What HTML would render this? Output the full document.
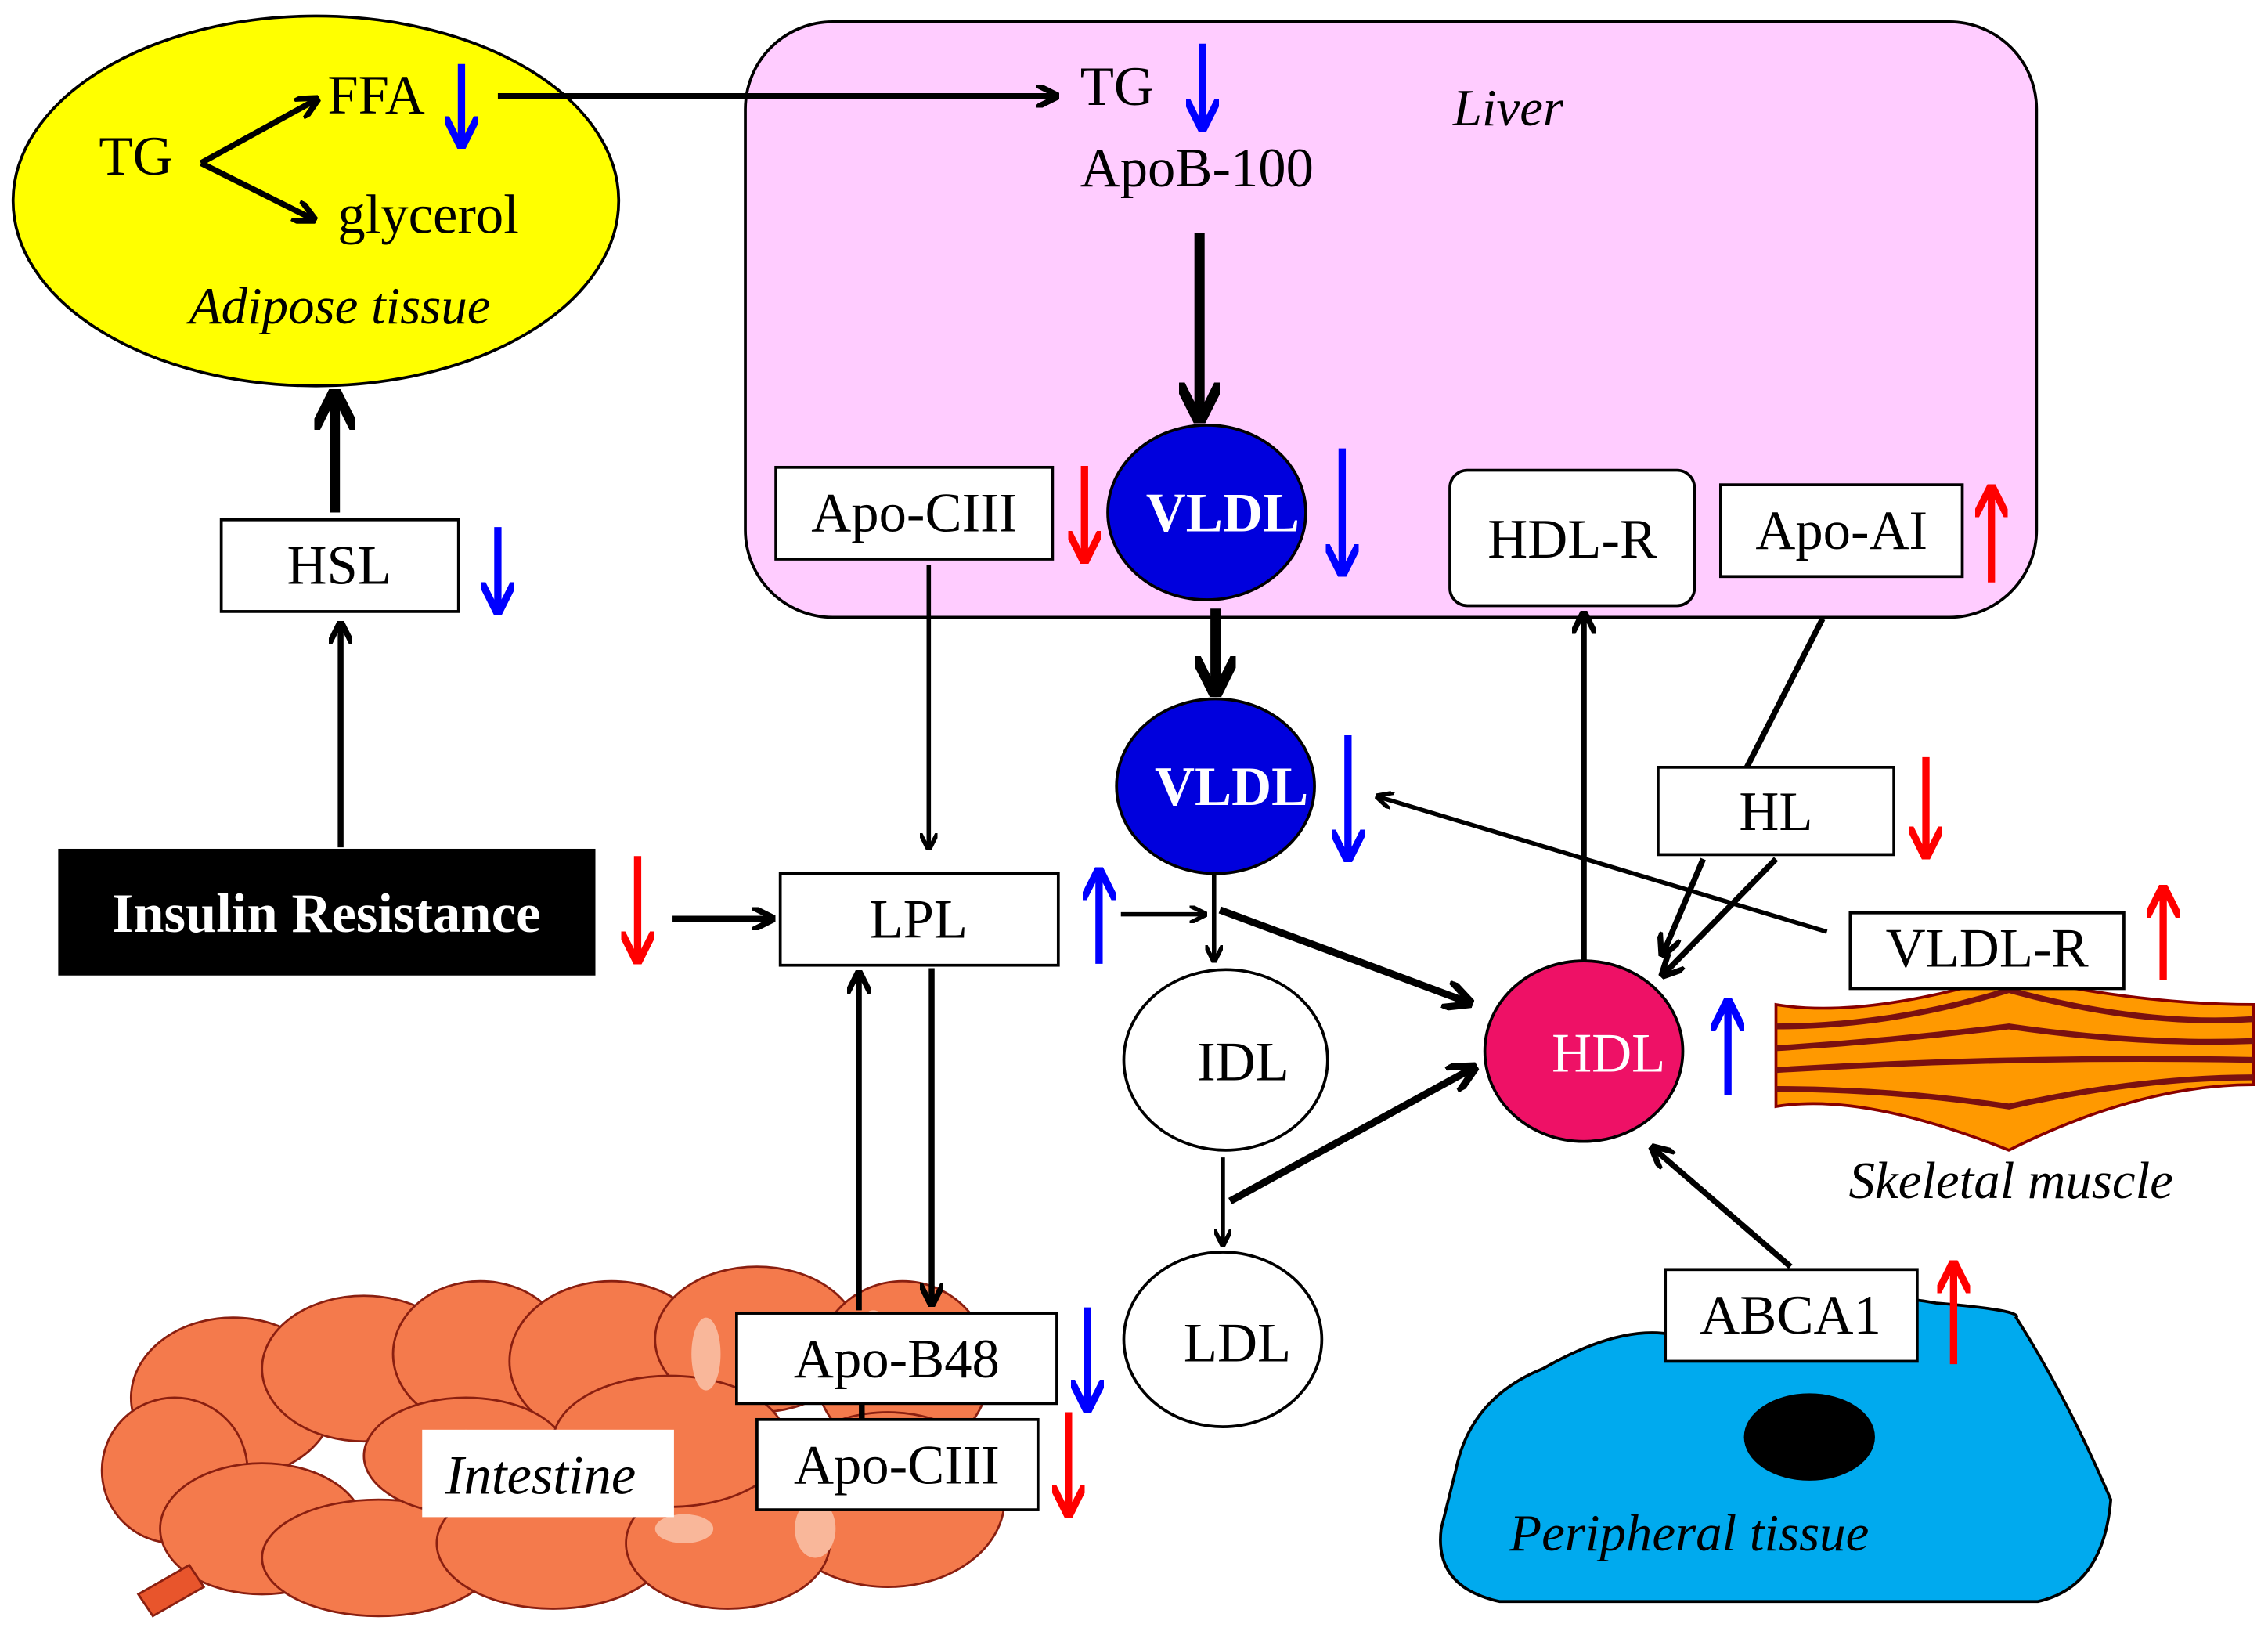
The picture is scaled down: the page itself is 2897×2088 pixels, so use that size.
<!DOCTYPE html>
<html><head><meta charset="utf-8"><style>html,body{margin:0;padding:0;background:#fff}svg{display:block}</style></head>
<body>
<svg width="2897" height="2088" viewBox="0 0 1558 1123" preserveAspectRatio="none" xmlns="http://www.w3.org/2000/svg" font-family="'Liberation Serif', serif">
<defs>
<marker id="ak" viewBox="0 0 10 10" refX="9" refY="5" markerWidth="4" markerHeight="4" orient="auto"><path d="M0,0 L10,5 L0,10" fill="none" stroke="#000" stroke-width="2.5"/></marker>
<marker id="ab" viewBox="0 0 10 10" refX="9" refY="5" markerWidth="4.5" markerHeight="4.5" orient="auto"><path d="M0,0 L10,5 L0,10" fill="none" stroke="#00f" stroke-width="2.2"/></marker>
<marker id="ar" viewBox="0 0 10 10" refX="9" refY="5" markerWidth="4.5" markerHeight="4.5" orient="auto"><path d="M0,0 L10,5 L0,10" fill="none" stroke="#f00" stroke-width="2.2"/></marker>
</defs>
<!-- liver -->
<rect x="512" y="15" width="887" height="409" rx="60" fill="#ffccff" stroke="#000" stroke-width="2"/>
<text x="998" y="86" font-size="36" font-style="italic">Liver</text>
<text x="742" y="72" font-size="38">TG</text>
<text x="742" y="128" font-size="38">ApoB-100</text>
<!-- adipose -->
<ellipse cx="217" cy="138" rx="208" ry="127" fill="#ffff00" stroke="#000" stroke-width="2"/>
<text x="68" y="120" font-size="38">TG</text>
<text x="225" y="78" font-size="38">FFA</text>
<text x="232" y="160" font-size="38">glycerol</text>
<text x="130" y="222" font-size="36" font-style="italic">Adipose tissue</text>
<g stroke="#000" stroke-width="4" fill="none">
<line x1="138" y1="112" x2="218" y2="68" marker-end="url(#ak)"/>
<line x1="138" y1="112" x2="216" y2="151" marker-end="url(#ak)"/>
<line x1="342" y1="66" x2="726" y2="66" marker-end="url(#ak)"/>
</g>
<!-- intestine -->
<g stroke="#8a1f10" stroke-width="1.5" fill="#f47a4c">
<ellipse cx="160" cy="960" rx="70" ry="55"/>
<ellipse cx="120" cy="1010" rx="50" ry="50"/>
<ellipse cx="250" cy="940" rx="70" ry="50"/>
<ellipse cx="330" cy="930" rx="60" ry="50"/>
<ellipse cx="420" cy="935" rx="70" ry="55"/>
<ellipse cx="520" cy="920" rx="70" ry="50"/>
<ellipse cx="620" cy="940" rx="60" ry="60"/>
<ellipse cx="610" cy="1030" rx="80" ry="60"/>
<ellipse cx="180" cy="1050" rx="70" ry="45"/>
<ellipse cx="260" cy="1070" rx="80" ry="40"/>
<ellipse cx="380" cy="1060" rx="80" ry="45"/>
<ellipse cx="500" cy="1060" rx="70" ry="45"/>
<ellipse cx="320" cy="1000" rx="70" ry="40"/>
<ellipse cx="460" cy="990" rx="80" ry="45"/>
<path d="M95,1095 L130,1075 L140,1090 L105,1110 Z" fill="#e8552c"/>
</g>
<g fill="#f9b79a"><ellipse cx="485" cy="930" rx="10" ry="25"/><ellipse cx="600" cy="920" rx="12" ry="20"/><ellipse cx="320" cy="1000" rx="10" ry="18"/><ellipse cx="470" cy="1050" rx="20" ry="10"/><ellipse cx="560" cy="1050" rx="14" ry="20"/></g>
<rect x="290" y="982" width="173" height="60" fill="#fff"/>
<text x="306" y="1026" font-size="38" font-style="italic">Intestine</text>
<!-- muscle -->
<path d="M1220,690 Q1280,700 1380,670 Q1470,690 1548,690 L1548,745 Q1470,745 1380,790 Q1280,750 1220,760 Z" fill="#ff9900" stroke="#800" stroke-width="2"/>
<g stroke="#7a1010" stroke-width="4" fill="none">
<path d="M1220,705 Q1300,705 1380,680 Q1470,705 1548,700"/>
<path d="M1220,720 Q1300,715 1380,705 Q1470,718 1548,715"/>
<path d="M1220,735 Q1380,725 1548,728"/>
<path d="M1220,748 Q1300,748 1380,760 Q1470,740 1548,740"/>
</g>
<text x="1270" y="823" font-size="36" font-style="italic">Skeletal muscle</text>
<!-- peripheral -->
<path d="M1000,1010 Q1010,960 1060,940 Q1130,900 1170,925 Q1250,880 1330,895 Q1390,900 1385,905 Q1420,960 1450,1030 Q1445,1090 1400,1100 L1030,1100 Q985,1090 990,1050 Z" fill="#00aaee" stroke="#000" stroke-width="2"/>
<ellipse cx="1243" cy="987" rx="45" ry="30" fill="#000"/>
<text x="1037" y="1065" font-size="36" font-style="italic">Peripheral tissue</text>
<!-- boxes -->
<g fill="#fff" stroke="#000" stroke-width="2">
<rect x="533" y="321" width="190" height="63"/>
<rect x="996" y="323" width="168" height="93" rx="12"/>
<rect x="1182" y="333" width="166" height="63"/>
<rect x="152" y="357" width="163" height="63"/>
<rect x="536" y="600" width="191" height="63"/>
<rect x="1139" y="527" width="162" height="60"/>
<rect x="1271" y="627" width="188" height="52"/>
<rect x="1144" y="872" width="173" height="63"/>
<rect x="506" y="902" width="220" height="62"/>
<rect x="520" y="975" width="193" height="62"/>
<ellipse cx="842" cy="728" rx="70" ry="62"/>
<ellipse cx="840" cy="920" rx="68" ry="60"/>
</g>
<rect x="40" y="583" width="369" height="87" fill="#000"/>
<text x="224" y="640" font-size="38" font-weight="bold" fill="#fff" text-anchor="middle">Insulin Resistance</text>
<g font-size="38" text-anchor="middle">
<text x="628" y="365">Apo-CIII</text>
<text x="1080" y="383">HDL-R</text>
<text x="1265" y="377">Apo-AI</text>
<text x="233" y="401">HSL</text>
<text x="631" y="644">LPL</text>
<text x="1220" y="570">HL</text>
<text x="1365" y="664">VLDL-R</text>
<text x="1230" y="916">ABCA1</text>
<text x="616" y="946">Apo-B48</text>
<text x="616" y="1019">Apo-CIII</text>
<text x="854" y="742">IDL</text>
<text x="850" y="935">LDL</text>
</g>
<ellipse cx="829" cy="352" rx="68" ry="60" fill="#0000dd" stroke="#000" stroke-width="2"/>
<ellipse cx="835" cy="540" rx="68" ry="60" fill="#0000dd" stroke="#000" stroke-width="2"/>
<ellipse cx="1088" cy="722" rx="68" ry="62" fill="#ee1166" stroke="#000" stroke-width="2"/>
<g font-size="38" font-weight="bold" fill="#fff" text-anchor="middle">
<text x="840" y="365">VLDL</text><text x="846" y="553">VLDL</text>
</g>
<text x="1105" y="736" font-size="38" fill="#fff" text-anchor="middle">HDL</text>
<!-- black arrows -->
<g stroke="#000" fill="none">
<line x1="824" y1="160" x2="824" y2="288" stroke-width="7" marker-end="url(#ak)"/>
<line x1="835" y1="418" x2="835" y2="476" stroke-width="7" marker-end="url(#ak)"/>
<line x1="230" y1="352" x2="230" y2="270" stroke-width="7" marker-end="url(#ak)"/>
<line x1="234" y1="582" x2="234" y2="428" stroke-width="4" marker-end="url(#ak)"/>
<line x1="462" y1="631" x2="531" y2="631" stroke-width="4" marker-end="url(#ak)"/>
<line x1="638" y1="388" x2="638" y2="583" stroke-width="3" marker-end="url(#ak)"/>
<line x1="770" y1="628" x2="828" y2="628" stroke-width="3" marker-end="url(#ak)"/>
<line x1="834" y1="600" x2="834" y2="660" stroke-width="3" marker-end="url(#ak)"/>
<line x1="838" y1="625" x2="1010" y2="689" stroke-width="5" marker-end="url(#ak)"/>
<line x1="840" y1="795" x2="840" y2="855" stroke-width="3" marker-end="url(#ak)"/>
<line x1="845" y1="825" x2="1013" y2="733" stroke-width="5" marker-end="url(#ak)"/>
<line x1="1088" y1="660" x2="1088" y2="421" stroke-width="4" marker-end="url(#ak)"/>
<line x1="1252" y1="425" x2="1200" y2="527" stroke-width="4"/>
<line x1="1170" y1="590" x2="1142" y2="656" stroke-width="4" marker-end="url(#ak)"/>
<line x1="1220" y1="590" x2="1142" y2="670" stroke-width="4" marker-end="url(#ak)"/>
<line x1="1255" y1="640" x2="946" y2="547" stroke-width="3" marker-end="url(#ak)"/>
<line x1="1230" y1="870" x2="1135" y2="788" stroke-width="4" marker-end="url(#ak)"/>
<line x1="640" y1="665" x2="640" y2="896" stroke-width="4" marker-end="url(#ak)"/>
<line x1="590" y1="900" x2="590" y2="668" stroke-width="4" marker-end="url(#ak)"/>
<line x1="592" y1="964" x2="592" y2="975" stroke-width="4"/>
</g>
<!-- colored arrows -->
<g fill="none" stroke-width="5">
<line x1="317" y1="44" x2="317" y2="100" stroke="#00f" marker-end="url(#ab)"/>
<line x1="826" y1="30" x2="826" y2="88" stroke="#00f" marker-end="url(#ab)"/>
<line x1="922" y1="308" x2="922" y2="394" stroke="#00f" marker-end="url(#ab)"/>
<line x1="926" y1="505" x2="926" y2="590" stroke="#00f" marker-end="url(#ab)"/>
<line x1="342" y1="362" x2="342" y2="420" stroke="#00f" marker-end="url(#ab)"/>
<line x1="755" y1="662" x2="755" y2="598" stroke="#00f" marker-end="url(#ab)"/>
<line x1="1187" y1="752" x2="1187" y2="688" stroke="#00f" marker-end="url(#ab)"/>
<line x1="747" y1="898" x2="747" y2="968" stroke="#00f" marker-end="url(#ab)"/>
<line x1="745" y1="320" x2="745" y2="385" stroke="#f00" marker-end="url(#ar)"/>
<line x1="1368" y1="400" x2="1368" y2="335" stroke="#f00" marker-end="url(#ar)"/>
<line x1="438" y1="588" x2="438" y2="660" stroke="#f00" marker-end="url(#ar)"/>
<line x1="1323" y1="520" x2="1323" y2="588" stroke="#f00" marker-end="url(#ar)"/>
<line x1="1486" y1="673" x2="1486" y2="610" stroke="#f00" marker-end="url(#ar)"/>
<line x1="1342" y1="937" x2="1342" y2="868" stroke="#f00" marker-end="url(#ar)"/>
<line x1="734" y1="970" x2="734" y2="1040" stroke="#f00" marker-end="url(#ar)"/>
</g>
</svg>
</body></html>
